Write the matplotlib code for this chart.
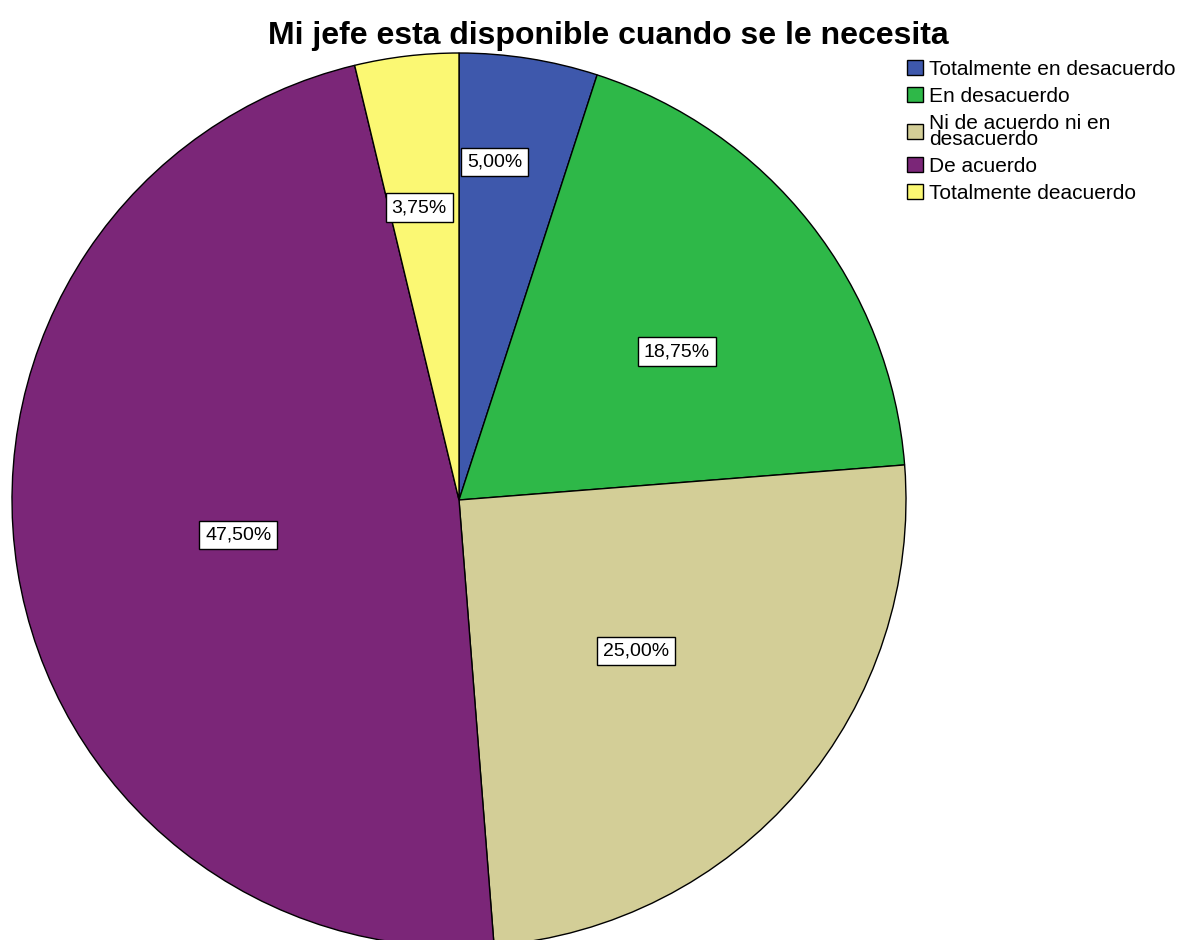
import matplotlib
matplotlib.use("Agg")
import matplotlib.pyplot as plt
import numpy as np

# data
categories = ["Totalmente en desacuerdo", "En desacuerdo",
              "Ni de acuerdo ni en\ndesacuerdo", "De acuerdo",
              "Totalmente deacuerdo"]
percent = [5.00, 18.75, 25.00, 47.50, 3.75]
colors = ["#3e58ac", "#2eb848", "#d3ce97", "#7b2678", "#fbf873"]
title = "Mi jefe esta disponible cuando se le necesita"

# label radius / angle shift per slice (layout, like SPSS puts them)
label_r = [0.76, 0.59, 0.52, 0.50, 0.66]
label_shift = [3, -4, 0, 0, 1]

plt.rcParams['font.family'] = ['Liberation Sans', 'DejaVu Sans']

fig = plt.figure(figsize=(11.89, 9.40), dpi=100)
ax = fig.add_axes([12/1189, -7/940, 894/1189, 894/940])

wedges, texts = ax.pie(percent, colors=colors, startangle=90, counterclock=False,
                       wedgeprops=dict(edgecolor='black', linewidth=1))
ax.set_xlim(-1, 1)
ax.set_ylim(-1, 1)
ax.axis('off')

for w, p, r, s in zip(wedges, percent, label_r, label_shift):
    ang = np.deg2rad((w.theta1 + w.theta2) / 2 + s)
    ax.text(r*np.cos(ang), r*np.sin(ang), f"{p:.2f}%".replace('.', ','),
            ha='center', va='center', fontsize=14,
            bbox=dict(boxstyle='square,pad=0.3', fc='white', ec='black', lw=1))

fig.text(0.512, 1-36/940, title, ha='center', va='center', fontsize=23, fontweight='bold')

leg = fig.legend(wedges, categories, loc='upper left', bbox_to_anchor=(907/1189, 1-60/940),
                 frameon=False, fontsize=15, handlelength=0.75, handleheight=0.75,
                 handletextpad=0.3, labelspacing=0.38, borderaxespad=0, borderpad=0)
for t in leg.get_texts():
    t.set_linespacing(0.8)

fig.savefig("out.png", dpi=100)
